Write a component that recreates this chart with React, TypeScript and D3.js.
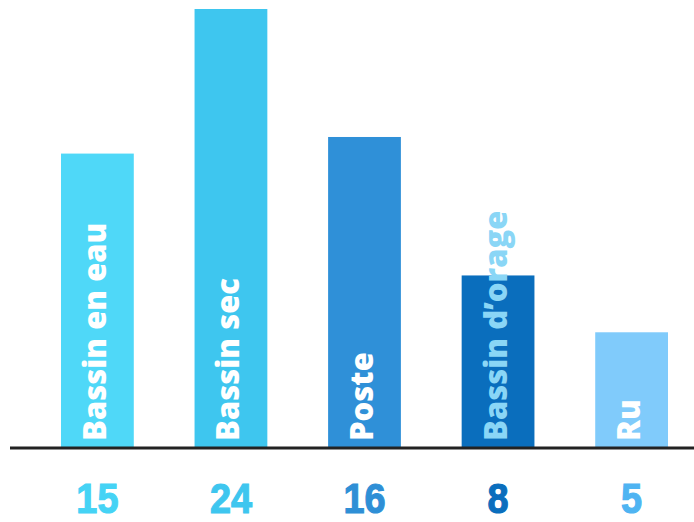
import React from "react";
import * as d3 from "d3";

const categories = ["Bassin en eau", "Bassin sec", "Poste", "Bassin d\u2019orage", "Ru"];
const values = [15, 24, 16, 8, 5];
const barColors = ["#4fd8f8", "#3ec6ef", "#2f90d8", "#0a6ebd", "#80cbfb"];
const valueColors = ["#45d3f5", "#3ec6ef", "#2e8fd6", "#0a6ebd", "#4fb4f2"];
const labelColors = ["#ffffff", "#ffffff", "#ffffff", "#8ad6f6", "#ffffff"];

const W = 694;
const H = 522;
const baseY = 448;

export default function App() {
  const x = d3
    .scaleBand<string>()
    .domain(categories)
    .range([61, 668])
    .paddingInner(0.455)
    .paddingOuter(0);
  const y = d3.scalePow().exponent(0.85).domain([0, 24]).range([baseY, 9]);
  const bw = x.bandwidth();

  return (
    <svg
      width={W}
      height={H}
      style={{ position: "absolute", left: 0, top: 0, background: "#fff" }}
    >
      {categories.map((c, i) => (
        <rect
          key={"b" + c}
          x={x(c)}
          y={y(values[i])}
          width={bw}
          height={baseY - y(values[i])}
          fill={barColors[i]}
        />
      ))}
      {categories.map((c, i) => {
        const cx = (x(c) as number) + bw / 2;
        return (
          <text
            key={"l" + c}
            transform={`translate(${cx + 8.5},441) rotate(-90)`}
            textAnchor="start"
            fontFamily="'Open Sans', sans-serif"
            fontWeight={800}
            fontSize={31}
            fill={labelColors[i]}
          >
            {c}
          </text>
        );
      })}
      <line x1={10} x2={694} y1={baseY} y2={baseY} stroke="#222" strokeWidth={3} />
      {categories.map((c, i) => {
        const cx = (x(c) as number) + bw / 2;
        return (
          <text
            key={"v" + c}
            transform={`translate(${cx},513) scale(0.88,1)`}
            textAnchor="middle"
            fontFamily="'Liberation Sans Narrow', 'Liberation Sans', sans-serif"
            fontWeight={700}
            fontSize={43}
            fill={valueColors[i]}
            stroke={valueColors[i]}
            strokeWidth={1.2}
          >
            {values[i]}
          </text>
        );
      })}
    </svg>
  );
}
